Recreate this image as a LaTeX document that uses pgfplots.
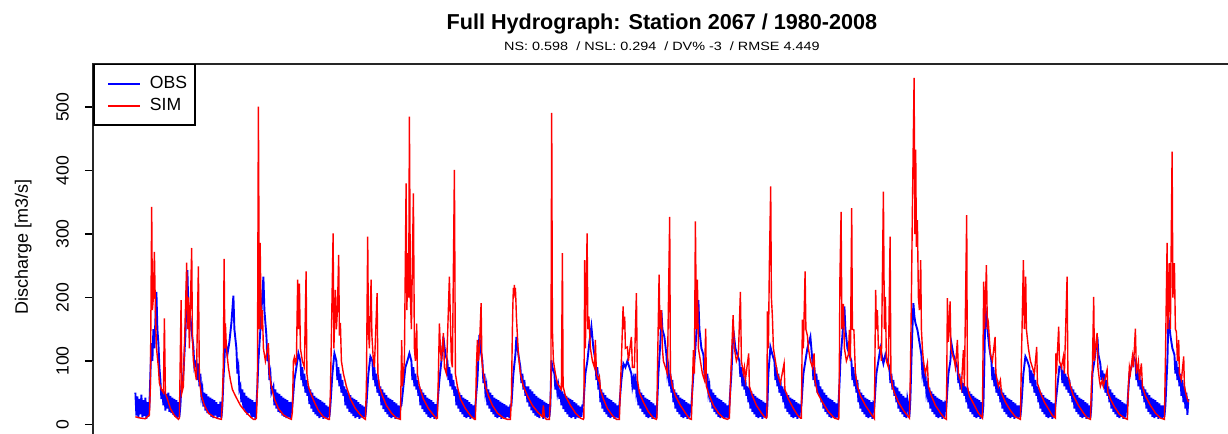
\documentclass[border=0pt]{standalone}
\usepackage{fontspec}
\setmainfont{Liberation Sans}
\newfontfamily\subfont[FakeStretch=1.2]{Liberation Sans}
\usepackage{pgfplots}
\pgfplotsset{compat=1.18}
\begin{document}
\begin{tikzpicture}
\begin{axis}[
  at={(0,0)}, anchor=south west,
  scale only axis, width=568.6pt, height=186.55pt,
  xmin=-42.1, xmax=1095.1, ymin=-20, ymax=568,
  xtick=\empty,
  ytick={0,100,200,300,400,500},
  tick align=outside,
  major tick length=4.15pt,
  tick style={black, line width=0.75pt},
  axis line style={line width=0.8pt, black!85},
  yticklabel style={xshift=-8.2pt, rotate=90, anchor=base, font=\fontsize{8.8}{10}\selectfont},
  /pgf/number format/assume math mode=true,
  ylabel={Discharge [m3/s]},
  every axis y label/.style={at={(axis description cs:-0.0575,0.5095)}, rotate=90, anchor=base, font=\fontsize{9}{11}\selectfont},
  clip mode=individual,
  legend style={at={(axis description cs:0,1)}, anchor=north west, draw=black, line width=0.75pt, fill=white,
    font=\fontsize{8.8}{10}\selectfont, inner xsep=3.9pt, inner ysep=5.8pt, row sep=3.2pt, column sep=4.55pt,
    nodes={inner sep=0pt}},
  legend cell align=left,
  legend image code/.code={\path (0pt,0pt); \draw[#1, line width=0.9pt] (2.8pt,0pt) -- (18.6pt,0pt);},
]
\addplot[blue, line width=0.95pt] coordinates {
(0,50)(1,14)(2,44)(3,10)(4,40)(5,16)(6,47)(7,11)(8,38)(9,13)(10,42)(11,9)(12,35)(13,12)(14,28)(15,80)(16,128)(17,100)(18,150)(19,120)(21,209)(22,150)(23,128)(24,90)(25,70)(26,40)(27,55)(28,30)(29,52)(30,22)(31,48)(32,25)(33,50)(34,20)(35,45)(36,18)(37,42)(38,15)(39,40)(40,12)(41,38)(42,10)(43,35)(44,12)
(45,30)(46,60)(48,80)(50,140)(52,243)(53,180)(55,170)(56,150)(58,122)(59,90)(61,100)(62,70)(63,96)(64,60)(65,80)(66,45)(67,55)(68,28)(69,50)(70,22)(71,48)(72,18)(73,44)(74,16)(75,42)(76,12)(77,40)(78,10)(79,38)(80,14)(81,35)(82,9)(83,32)(84,12)(85,36)(86,10)
(87,30)(88,70)(89,100)(90,133)(92,110)(94,130)(96,160)(98,203)(99,150)(101,120)(102,80)(103,90)(104,55)(105,60)(106,35)(107,55)(108,25)(109,50)(110,20)(111,45)(112,15)(113,42)(114,18)(115,40)(116,10)(117,38)(118,12)(119,35)(120,9)(121,30)
(122,60)(123,100)(125,150)(128,233)(129,180)(131,140)(132,100)(133,110)(134,70)(135,80)(136,50)(138,60)(139,30)(140,55)(141,25)(142,50)(143,20)(144,48)(145,18)(146,45)(147,14)(148,42)(149,12)(150,40)(151,10)(152,38)(153,12)(154,35)(155,9)(156,32)
(157,30)(159,70)(161,90)(163,112)(165,100)(166,70)(167,90)(168,60)(169,80)(170,50)(171,70)(172,45)(173,60)(174,32)(175,55)(176,25)(177,50)(178,20)(179,45)(180,16)(181,42)(182,13)(183,40)(184,10)(185,38)(186,12)(187,36)(188,9)(189,34)(190,11)(191,30)(192,10)(193,28)(194,12)
(195,30)(197,80)(199,112)(201,100)(202,70)(203,90)(204,60)(205,80)(206,50)(207,70)(208,45)(209,60)(210,30)(211,55)(212,25)(213,50)(214,20)(215,46)(216,17)(217,42)(218,13)(219,40)(220,10)(221,38)(222,12)(223,35)(224,9)(225,32)(226,11)(227,30)(228,10)(229,28)(230,12)
(231,30)(233,80)(235,107)(237,100)(238,70)(239,90)(240,60)(241,80)(242,50)(243,70)(244,45)(245,60)(246,30)(247,55)(248,24)(249,50)(250,20)(251,46)(252,16)(253,42)(254,12)(255,40)(256,10)(257,38)(258,12)(259,35)(260,9)(261,33)(262,11)(263,30)(264,10)(265,28)
(266,30)(268,60)(270,90)(272,100)(274,112)(276,100)(277,70)(278,90)(279,60)(280,80)(281,55)(282,70)(283,45)(284,60)(285,30)(286,55)(287,24)(288,50)(289,20)(290,46)(291,16)(292,42)(293,12)(294,40)(295,10)(296,38)(297,12)(298,35)(299,9)(300,32)(301,12)
(302,30)(304,70)(306,100)(308,138)(310,110)(312,100)(313,70)(314,90)(315,60)(316,80)(317,55)(318,70)(319,45)(320,60)(321,30)(322,55)(323,25)(324,50)(325,20)(326,46)(327,16)(328,42)(329,12)(330,40)(331,10)(332,38)(333,12)(334,35)(335,9)(336,32)(337,11)(338,30)(339,10)
(340,30)(342,70)(344,141)(345,120)(347,100)(348,65)(349,80)(350,50)(351,60)(352,30)(353,55)(354,25)(355,50)(356,20)(357,46)(358,16)(359,42)(360,12)(361,40)(362,10)(363,38)(364,12)(365,36)(366,9)(367,34)(368,11)(369,32)(370,10)(371,30)(372,12)(373,28)(374,10)(375,30)
(376,30)(378,80)(380,110)(381,138)(383,110)(385,90)(386,65)(387,80)(388,55)(389,70)(390,45)(391,60)(392,35)(393,60)(394,28)(395,55)(396,22)(397,52)(398,18)(399,48)(400,14)(401,45)(402,12)(403,42)(404,10)(405,40)(406,14)(407,38)(408,9)(409,36)(410,12)(411,34)(412,10)(413,32)(414,12)
(415,30)(416,101)(417,90)(419,80)(420,55)(421,70)(422,50)(423,60)(424,40)(425,55)(426,30)(427,52)(428,24)(429,48)(430,20)(431,45)(432,16)(433,42)(434,12)(435,40)(436,10)(437,38)(438,12)(439,35)(440,9)(441,33)(442,11)(443,30)(444,10)(445,28)(446,12)(447,30)
(448,30)(450,80)(452,100)(454,130)(456,154)(458,120)(460,100)(461,70)(462,90)(463,55)(464,70)(465,35)(466,55)(467,25)(468,50)(469,20)(470,46)(471,16)(472,42)(473,12)(474,40)(475,10)(476,38)(477,12)(478,35)(479,9)(480,33)(481,11)(482,30)(483,10)
(484,30)(486,70)(488,96)(490,90)(492,100)(494,90)(496,80)(497,60)(498,70)(499,55)(500,80)(501,50)(502,60)(503,30)(504,55)(505,25)(506,50)(507,20)(508,46)(509,16)(510,42)(511,12)(512,40)(513,10)(514,38)(515,12)(516,35)(517,9)(518,33)(519,11)(520,30)(521,10)
(522,40)(523,80)(525,130)(526,180)(527,150)(529,138)(531,110)(532,80)(533,90)(534,60)(535,80)(536,50)(537,70)(538,35)(539,55)(540,25)(541,50)(542,20)(543,46)(544,16)(545,42)(546,12)(547,40)(548,10)(549,38)(550,12)(551,35)(552,9)(553,33)(554,11)(555,30)
(556,30)(558,80)(560,120)(563,196)(564,150)(566,120)(568,110)(569,80)(570,100)(571,65)(572,80)(573,50)(574,60)(575,35)(576,55)(577,25)(578,50)(579,20)(580,46)(581,16)(582,42)(583,12)(584,40)(585,10)(586,38)(587,12)(588,35)(589,9)(590,33)(591,11)(592,30)(593,10)
(594,30)(596,80)(598,149)(600,120)(602,110)(604,100)(605,75)(606,90)(607,60)(608,80)(609,55)(610,70)(611,45)(612,60)(613,35)(614,58)(615,25)(616,52)(617,20)(618,48)(619,16)(620,45)(621,12)(622,42)(623,10)(624,40)(625,12)(626,38)(627,9)(628,36)(629,11)(630,34)(631,10)
(632,30)(633,80)(635,122)(637,110)(639,100)(640,70)(641,90)(642,60)(643,80)(644,50)(645,70)(646,45)(647,60)(648,35)(649,55)(650,25)(651,50)(652,20)(653,46)(654,16)(655,42)(656,12)(657,40)(658,10)(659,38)(660,12)(661,35)(662,9)(663,33)(664,11)(665,30)
(666,30)(668,80)(670,100)(672,120)(675,138)(677,100)(678,70)(679,90)(680,60)(681,80)(682,50)(683,70)(684,45)(685,60)(686,35)(687,55)(688,25)(689,50)(690,20)(691,46)(692,16)(693,42)(694,12)(695,40)(696,10)(697,38)(698,12)(699,35)(700,9)(701,33)(702,11)(703,30)
(704,60)(705,100)(707,140)(709,186)(710,150)(712,120)(714,110)(716,100)(717,70)(718,90)(719,60)(720,80)(721,50)(722,70)(723,35)(724,55)(725,25)(726,50)(727,20)(728,46)(729,16)(730,42)(731,12)(732,40)(733,10)(734,38)(735,12)(736,35)(737,9)(738,33)
(739,30)(741,80)(743,100)(745,120)(748,96)(750,110)(752,100)(754,90)(755,65)(756,80)(757,55)(758,70)(759,45)(760,60)(761,35)(762,58)(763,25)(764,52)(765,20)(766,48)(767,16)(768,45)(769,12)(770,42)(771,10)(772,40)(773,30)(774,12)
(775,40)(776,100)(777,150)(778,191)(779,170)(780,160)(782,149)(784,130)(786,110)(787,80)(788,90)(789,60)(790,80)(791,50)(792,60)(793,35)(794,58)(795,25)(796,52)(797,20)(798,48)(799,16)(800,45)(801,12)(802,42)(803,10)(804,40)(805,12)(806,38)(807,9)(808,36)(809,11)(810,33)
(811,30)(813,80)(815,100)(816,128)(818,110)(820,100)(822,90)(823,65)(824,80)(825,55)(826,70)(827,50)(828,65)(829,45)(830,60)(831,35)(832,58)(833,25)(834,52)(835,20)(836,48)(837,16)(838,45)(839,12)(840,42)(841,10)(842,40)(843,12)(844,38)(845,9)(846,35)(847,11)
(848,30)(849,100)(850,186)(852,150)(854,120)(856,100)(857,70)(858,90)(859,60)(860,80)(861,50)(862,70)(863,45)(864,60)(865,35)(866,55)(867,25)(868,50)(869,20)(870,46)(871,16)(872,42)(873,12)(874,40)(875,10)(876,38)(877,12)(878,35)(879,9)(880,33)(881,11)(882,30)(883,10)(884,30)(885,12)
(886,30)(888,80)(890,107)(892,100)(894,90)(895,65)(896,85)(897,60)(898,80)(899,50)(900,70)(901,45)(902,60)(903,35)(904,55)(905,25)(906,50)(907,20)(908,46)(909,16)(910,42)(911,12)(912,40)(913,10)(914,38)(915,12)(916,35)(917,9)(918,33)(919,11)
(920,30)(922,60)(924,91)(926,90)(927,65)(928,85)(929,60)(930,80)(931,55)(932,75)(933,50)(934,70)(935,45)(936,60)(937,35)(938,55)(939,25)(940,50)(941,20)(942,46)(943,16)(944,42)(945,12)(946,40)(947,10)(948,38)(949,12)(950,35)(951,9)(952,33)(953,11)(954,30)(955,10)
(956,30)(957,80)(959,100)(962,138)(963,110)(965,95)(966,70)(967,85)(968,60)(969,80)(970,50)(971,70)(972,45)(973,60)(974,35)(975,55)(976,25)(977,50)(978,20)(979,46)(980,16)(981,42)(982,12)(983,40)(984,10)(985,38)(986,12)(987,35)(988,9)(989,33)(990,11)(991,30)
(992,30)(994,80)(996,90)(998,107)(1000,100)(1001,70)(1002,90)(1003,60)(1004,80)(1005,55)(1006,70)(1007,45)(1008,60)(1009,35)(1010,55)(1011,25)(1012,50)(1013,20)(1014,46)(1015,16)(1016,42)(1017,12)(1018,40)(1019,10)(1020,38)(1021,12)(1022,35)(1023,9)(1024,33)(1025,11)(1026,30)(1027,10)(1028,30)(1029,12)
(1030,30)(1032,100)(1033,170)(1035,140)(1037,120)(1039,110)(1040,80)(1041,100)(1042,70)(1043,90)(1044,60)(1045,80)(1046,45)(1047,70)(1048,35)(1049,60)(1050,25)(1051,50)(1052,15)(1053,40)
};
\addlegendentry{OBS}
\addplot[red, line width=0.7pt] coordinates {
(0,12)(5,10)(10,9)(14,15)(15,60)(16.3,343)(17,180)(18,200)(19,272)(20,180)(21,122)(23,90)(24,65)(26,55)(28,50)(29,167)(30,49)(32,40)(35,25)(39,14)(43,8)
(44,10)(45.7,196)(46.5,50)(48,60)(49,120)(51.3,255)(52,150)(53,200)(54,120)(56.3,278)(57,140)(58,100)(60,80)(61,70)(63,249)(64,70)(66,45)(69,30)(73,18)(78,12)(83,9)(86,8)
(87,40)(88,100)(88.7,261)(89.5,120)(90,159)(91,120)(93,90)(95,70)(97,55)(100,45)(105,30)(110,20)(115,12)(118,8)(120,8)
(121,10)(122,60)(123,501)(124,150)(124.7,286)(125.5,201)(126,150)(127,180)(128,120)(130,100)(133,128)(134,80)(136,60)(139,40)(143,25)(148,15)(153,10)(156,8)
(157,20)(158,100)(159,106)(160,96)(161,100)(162.3,228)(163,150)(164,222)(165,120)(167,100)(169,90)(170.7,241)(171.5,80)(173,60)(175,50)(179,35)(183,22)(188,12)(193,8)
(194,8)(195,50)(196,138)(197.7,301)(198.5,120)(200,212)(201,150)(202,180)(203.3,267)(204,140)(205,160)(206,100)(208,80)(211,60)(215,40)(220,25)(225,15)(229,9)
(230,8)(231,60)(232.3,296)(233,150)(234,120)(235.7,228)(236.5,140)(238,100)(239,90)(241.7,207)(242.5,80)(244,60)(247,45)(251,30)(256,18)(261,10)(265,8)
(266.3,133)(267,60)(269,100)(270.7,380)(271.5,180)(272.5,270)(273.3,200)(274,485)(275,200)(276,150)(278,364)(279,120)(280,100)(281.3,159)(282,80)(284,60)(288,40)(293,25)(298,15)(301,9)
(302,10)(303,80)(304,159)(305,120)(306,100)(308,144)(309,90)(311,80)(314,233)(315,165)(316,100)(317,90)(319,401)(320,80)(322,60)(325,40)(330,25)(335,14)(339,8)
(340,8)(341,90)(342,133)(343,100)(344,120)(345.7,191)(346.5,100)(348,80)(350,60)(353,45)(357,30)(362,18)(368,10)(372,8)(375,8)
(376,40)(377,150)(377.5,190)(378,215)(378.5,200)(379,220)(379.5,205)(380,215)(380.5,195)(381,170)(382,140)(383,110)(385,80)(388,60)(392,45)(397,30)(402,20)(407,12)(408,30)(409,12)(411,8)(414,8)
(415.5,60)(416.3,491)(417,150)(418,100)(420,80)(422,65)(424,60)(426,55)(427,270)(427.7,60)(430,45)(435,30)(440,18)(445,10)(448,8)
(448.5,10)(449.3,259)(450,120)(451.7,301)(452.5,150)(453.5,170)(455,120)(457,100)(459,90)(460,133)(461,80)(463,70)(464,75)(465,55)(468,40)(472,25)(477,14)(481,8)(484,8)
(485,60)(486,100)(487.7,186)(488.5,150)(489.3,170)(490,120)(492,122)(493,100)(496,138)(497,90)(499,90)(501,207)(502,70)(504,50)(508,35)(513,20)(518,10)(521,8)
(521.5,10)(522,80)(523.7,236)(524.5,150)(526,180)(527,120)(528,100)(530,90)(532,80)(534.3,327)(535,80)(537,60)(540,45)(545,30)(550,18)(554,9)(556,8)
(557,60)(558,117)(559,80)(560,320)(561,150)(562,228)(563,120)(565,100)(567,80)(569,70)(570.3,151)(571,60)(574,45)(578,30)(583,18)(588,10)(592,8)(594,10)
(595,60)(597.7,172)(599,120)(601,100)(603,110)(605,209)(606,100)(608,80)(609,90)(610,70)(613.3,112)(614,60)(617,45)(621,30)(626,18)(629,12)(631,10)
(631.5,12)(632,178)(633,120)(634,254)(635.3,375)(636,200)(637,170)(638,120)(640,100)(642,80)(645,65)(648.7,96)(649.5,55)(653,40)(658,25)(662,15)(665,10)
(666,10)(667,165)(668,120)(669.7,241)(670.5,150)(672,140)(673,120)(675,100)(677,90)(678.7,112)(679.5,70)(682,50)(687,35)(693,20)(699,10)(703,8)
(703.5,10)(704,100)(704.5,228)(705.7,335)(706.5,150)(708,190)(709,120)(711,100)(713,110)(714,149)(715,100)(716.3,341)(717,150)(718.5,149)(720,80)(722,60)(725,45)(730,30)(735,18)(739,9)
(739.5,100)(740.3,212)(741,150)(742,180)(743,120)(745,122)(746,100)(748,367)(749,150)(750,201)(751,100)(753,90)(754.7,296)(755.5,80)(757,60)(759,50)(763,35)(768,22)(772,14)(774,10)
(775,80)(776,200)(777,338)(778.7,546)(779.5,300)(780.3,433)(781,280)(782,322)(783,200)(784,180)(785.3,259)(786,150)(787,120)(788,100)(790,80)(792,96)(793,60)(796,45)(800,30)(805,18)(809,10)(811,8)
(811.5,100)(812,199)(813,130)(814.7,194)(815.5,120)(817,110)(819,100)(820,90)(822,133)(823,80)(825,70)(826,60)(828,117)(829,60)(831.3,330)(832,60)(834,45)(839,30)(843,18)(847,10)
(848.3,225)(849.2,150)(851,251)(852,150)(853,159)(855,110)(857,100)(859.7,138)(860.5,80)(863,60)(865,70)(866,50)(870,35)(875,22)(880,12)(885,8)
(886,100)(888,259)(889,150)(890.3,233)(891,150)(893,120)(895,100)(897,90)(899,80)(901.3,122)(902,65)(905,50)(909,35)(914,22)(917,14)(920,10)
(920.5,112)(921,80)(923.3,154)(924,100)(926,90)(928,107)(929,80)(931.7,233)(932.5,80)(935,60)(938,45)(943,30)(948,18)(952,10)(955,8)
(956,60)(957,90)(958.3,201)(959,100)(960,120)(961.7,144)(962.5,90)(964,70)(965,60)(967,70)(968,60)(971.7,86)(972.5,50)(975,40)(979,28)(984,16)(989,10)(992,8)
(993,60)(994,90)(995,80)(997,107)(998,90)(1000,151)(1001,80)(1003,99)(1004,70)(1006,96)(1007,60)(1010,45)(1015,30)(1020,18)(1025,10)(1029,8)
(1030,100)(1031.7,286)(1032.5,150)(1034,254)(1035,150)(1036.7,430)(1037.5,200)(1039,254)(1040,150)(1041,146)(1042,100)(1043.3,133)(1044,80)(1046,70)(1048.3,107)(1049,60)(1051,45)(1053,35)
};
\addlegendentry{SIM}
\end{axis}
\node[anchor=base, font=\bfseries\fontsize{10.8}{13}\selectfont] at ([yshift=17pt]current axis.north) {Full Hydrograph: Station 2067 / 1980-2008};
\node[anchor=base, font=\subfont\fontsize{6}{7}\selectfont] at ([yshift=6.65pt]current axis.north) {NS: 0.598\ \ / NSL: 0.294\ \ / DV\% -3\ \ / RMSE 4.449};
\pgfresetboundingbox
\useasboundingbox (-46.65pt,1.55pt) rectangle (567.35pt,218.55pt);
\end{tikzpicture}
\end{document}
